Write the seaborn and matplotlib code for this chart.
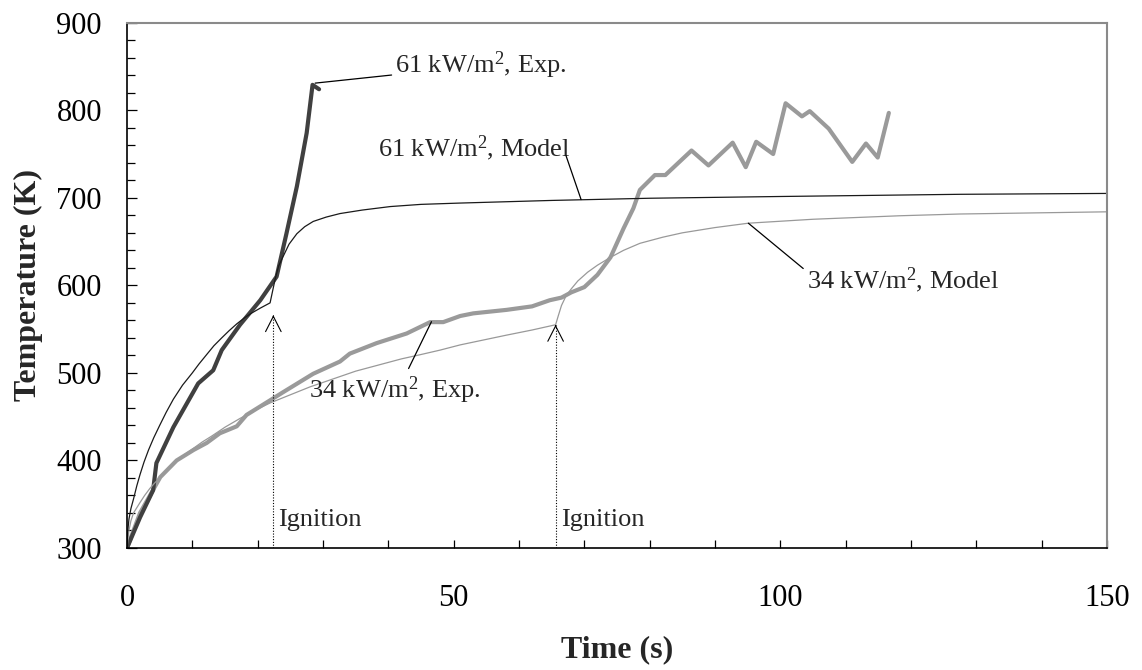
import numpy as np
import pandas as pd
import matplotlib
matplotlib.use("Agg")
import matplotlib.pyplot as plt
import seaborn as sns
from matplotlib.ticker import MultipleLocator

# ---------------- data ----------------
t_61_exp = [0, 2.0, 4.0, 4.5, 7.1, 10.9, 13.2, 14.5, 17.3, 20.4, 22.9, 24.4, 26.0, 27.5, 28.4, 29.4]
T_61_exp = [300, 335, 366, 397, 438, 488, 503, 526, 555, 583, 610, 659, 713, 774, 829, 824]

t_61_model = [0, 0.1, 0.3, 0.6, 1.0, 1.5, 2.0, 2.6, 3.3, 4.1, 5.0, 6.0, 7.1, 8.5, 10.0, 11.0,
              12.2, 13.3, 14.5, 15.6, 16.8, 18.0, 19.0, 20.4, 21.9,
              22.7, 23.2, 23.9, 24.8, 26.0, 27.2, 28.5, 30.5, 32.6, 36.0, 40.3, 45.0, 51.0,
              65, 80, 100, 127.5, 150]
T_61_model = [300, 318, 333, 345, 356, 371, 384, 398, 412, 426, 440, 455, 470, 486, 500, 510,
              521, 531, 540, 548, 556, 563, 568, 574, 580,
              608, 622, 633, 647, 659, 667, 673, 678, 682, 686, 690, 692.5, 694,
              697, 699.5, 701.5, 704, 705]

t_34_exp = [0, 2.0, 5.1, 7.6, 10.2, 12.2, 14.2, 16.8, 18.3, 22.4, 23.9, 28.5, 32.6, 34.1, 38.2,
            42.8, 46.4, 48.4, 51.0, 53.0, 58.1, 62, 64.7, 66.5, 68, 70, 72, 74, 76, 77.5, 78.5,
            80.8, 82.4, 86.4, 89.0, 92.7, 94.7, 96.3, 98.9, 100.8, 103.3, 104.5, 107.4, 111.0,
            113.1, 114.9, 116.6]
T_34_exp = [300, 340, 381, 400, 412, 420, 431, 439, 452, 471, 478, 499, 513, 522, 534,
            545, 558, 558, 565, 568, 572, 576, 583, 586, 592, 598, 612, 632, 665, 688, 709,
            726, 726, 754, 737, 763, 735, 764, 750, 808, 793, 799, 779, 741,
            762, 746, 797]

t_34_model = [0, 0.3, 0.6, 1.0, 1.5, 2.0, 2.7, 3.5, 4.2, 5.0, 6.2, 7.5, 8.7, 10.0, 11.5, 13.0,
              15.0, 17.3, 19.5, 22.0, 25.0, 28.0, 31.5, 35.0, 38.5, 42.0, 45.0, 47.9, 51.0,
              54.5, 58.0, 62.0, 65.6,
              66.0, 66.5, 67.2, 68.0, 69.0, 70.5, 72.0, 74.0, 76.0, 78.5, 82.0, 85.0, 90.0,
              95.1, 105, 118.3, 127.5, 150]
T_34_model = [300, 320, 331, 340, 346, 352, 360, 368, 374, 380, 389, 398, 406, 413, 421, 428,
              438, 448, 457, 466, 475, 484, 493, 502, 509, 516, 521, 526, 532,
              537.5, 543, 549, 555,
              565, 577, 588, 596, 605, 615, 623, 632, 640, 648, 655, 660, 666,
              671, 675.5, 679.5, 681.5, 684]

ignition_t = [22.4, 65.6]
ignition_tip = [566, 555]

label_61_exp = "61 kW/m$^2$, Exp."
label_61_model = "61 kW/m$^2$, Model"
label_34_exp = "34 kW/m$^2$, Exp."
label_34_model = "34 kW/m$^2$, Model"

# ---------------- style ----------------
sns.set_style("ticks")
plt.rcParams['font.family'] = ['Liberation Serif', 'DejaVu Serif']
plt.rcParams['mathtext.fontset'] = 'custom'
plt.rcParams['mathtext.rm'] = 'Liberation Serif'
plt.rcParams['mathtext.it'] = 'Liberation Serif:italic'
plt.rcParams['mathtext.bf'] = 'Liberation Serif:bold'
plt.rcParams['mathtext.default'] = 'rm'

fig = plt.figure(figsize=(11.42, 6.70), dpi=100)
ax = fig.add_axes([0.1112, 0.1821, 0.8582, 0.784])

def line(t, T, color, lw):
    df = pd.DataFrame({"t": t, "T": T})
    sns.lineplot(data=df, x="t", y="T", ax=ax, color=color, lw=lw,
                 sort=False, estimator=None, solid_joinstyle='round', solid_capstyle='round')

line(t_34_exp, T_34_exp, "#9a9a9a", 3.0)
line(t_61_exp, T_61_exp, "#404040", 3.0)
line(t_34_model, T_34_model, "#999999", 0.9)
line(t_61_model, T_61_model, "#1a1a1a", 0.9)

# ignition markers
for t, tip in zip(ignition_t, ignition_tip):
    ax.vlines(t, 300, tip, colors="black", linestyles=(0, (1, 1.5)), lw=0.8)
    ax.annotate("", xy=(t, tip), xytext=(t, tip - 2),
                arrowprops=dict(arrowstyle="->,head_length=0.55,head_width=0.28",
                                lw=0.8, color="black", shrinkA=0, shrinkB=0,
                                mutation_scale=20))
    ax.text(t + 0.8, 332, "Ignition", fontsize=19, va="center", ha="left")

# annotations with leader lines
fs = 19
ax.annotate(label_61_exp, xy=(28.8, 831), xytext=(41.0, 851), fontsize=fs, va="center", ha="left",
            arrowprops=dict(arrowstyle="-", lw=0.9, color="black", shrinkA=0, shrinkB=0))
ax.text(38.4, 757, label_61_model, fontsize=fs, va="center", ha="left")
ax.annotate("", xy=(69.5, 698), xytext=(67.2, 748),
            arrowprops=dict(arrowstyle="-", lw=0.9, color="black", shrinkA=0, shrinkB=0))
ax.text(27.8, 480, label_34_exp, fontsize=fs, va="center", ha="left")
ax.annotate("", xy=(46.6, 558.5), xytext=(43.1, 505),
            arrowprops=dict(arrowstyle="-", lw=0.9, color="black", shrinkA=0, shrinkB=0))
ax.annotate(label_34_model, xy=(95.1, 671), xytext=(104.0, 606), fontsize=fs, va="center", ha="left",
            arrowprops=dict(arrowstyle="-", lw=0.9, color="black", shrinkA=0, shrinkB=0,
                            relpos=(0, 0.8)))

# axes
ax.set_xlim(0, 150)
ax.set_ylim(300, 900)
ax.xaxis.set_major_locator(MultipleLocator(50))
ax.xaxis.set_minor_locator(MultipleLocator(10))
ax.yaxis.set_major_locator(MultipleLocator(100))
ax.yaxis.set_minor_locator(MultipleLocator(20))
ax.tick_params(axis="both", which="both", direction="in", top=False, right=False,
               colors="black", width=0.9, labelsize=22)
ax.tick_params(axis="y", which="major", length=7, pad=18)
ax.tick_params(axis="y", which="minor", length=5.5)
ax.tick_params(axis="x", which="both", length=5.5, pad=26)

for s in ["left", "bottom"]:
    ax.spines[s].set_color("black")
    ax.spines[s].set_linewidth(1.2)
for s in ["top", "right"]:
    ax.spines[s].set_color("#8a8a8a")
    ax.spines[s].set_linewidth(1.5)

ax.set_xlabel("Time (s)", fontsize=23, fontweight="bold", labelpad=16)
ax.set_ylabel("Temperature (K)", fontsize=23, fontweight="bold", labelpad=10)

fig.savefig("out.png", dpi=100)
